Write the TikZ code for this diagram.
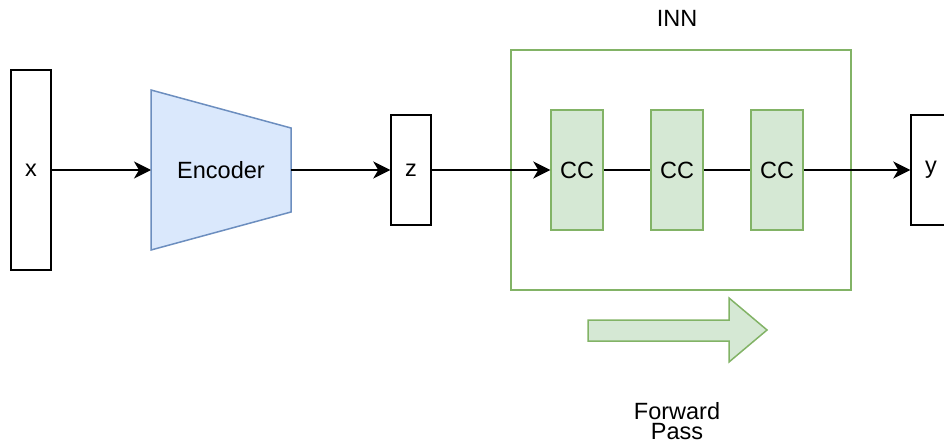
\documentclass[tikz,border=0pt]{standalone}
\usepackage{fontspec}
\setmainfont{Liberation Sans}
\usetikzlibrary{arrows.meta}
\definecolor{bluefill}{HTML}{DAE8FC}
\definecolor{bluedraw}{HTML}{6C8EBF}
\definecolor{greenfill}{HTML}{D5E8D4}
\definecolor{greendraw}{HTML}{82B366}
\begin{document}
\begin{tikzpicture}[x=1pt,y=-1pt,
  font=\fontsize{23.5}{20}\selectfont,
  box/.style={draw=black, line width=1.5pt, fill=white, minimum width=40pt, inner sep=0pt},
  ccbox/.style={draw=greendraw, fill=greenfill, line width=1.5pt, minimum width=52pt, minimum height=120pt, inner sep=0pt},
  frame/.style={draw=greendraw, line width=1.5pt, minimum width=340pt, minimum height=240pt, inner sep=0pt},
  conn/.style={line width=1.5pt, -{Stealth[length=17pt,width=17pt,inset=5pt]}},
  plain/.style={line width=1.5pt},
  lbl/.style={inner sep=0pt}]
\useasboundingbox (0,0) rectangle (944,441);
\clip (0,0) rectangle (944,441);

% INN frame and label
\node[frame] (inn) at (681,170) {};
\node[lbl] (innlbl) at (677,18) {INN};

% boxes
\node[box, minimum height=200pt] (x) at (31,170) {x};
\node[box, minimum height=110pt] (z) at (411,170) {z};
\node[box, minimum height=110pt] (y) at (931,170) {y};

% encoder trapezoid
\draw[draw=bluedraw, fill=bluefill, line width=1.5pt]
  (151,90) -- (291,128) -- (291,212) -- (151,250) -- cycle;
\coordinate (encin) at (151,170);
\coordinate (encout) at (291,170);
\node[lbl] (enc) at (221,170) {Encoder};

% CC blocks
\node[ccbox] (cc1) at (577,170) {CC};
\node[ccbox] (cc2) at (677,170) {CC};
\node[ccbox] (cc3) at (777,170) {CC};

% connectors
\draw[conn] (x) -- (encin);
\draw[conn] (encout) -- (z);
\draw[conn] (z) -- (cc1);
\draw[plain] (cc1) -- (cc2);
\draw[plain] (cc2) -- (cc3);
\draw[conn] (cc3) -- (y);

% forward pass arrow
\draw[draw=greendraw, fill=greenfill, line width=1.5pt]
  (588,320) -- (729,320) -- (729,298) -- (767,330) -- (729,362) -- (729,341) -- (588,341) -- cycle;
\node[lbl, align=center] (fp) at (677,421) {Forward\\Pass};
\end{tikzpicture}
\end{document}
